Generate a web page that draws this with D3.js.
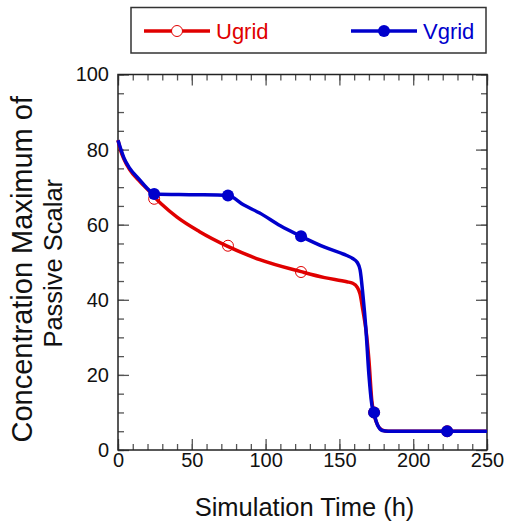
<!DOCTYPE html>
<html>
<head>
<meta charset="utf-8">
<script src="https://cdn.jsdelivr.net/npm/d3@7"></script>
<style>
  html, body { margin: 0; padding: 0; background: #fff; }
  svg { display: block; font-family: "Liberation Sans", Arial, sans-serif; }
  .tick text { font-size: 20px; fill: #111; }
</style>
</head>
<body>
<div id="chart"></div>
<script>
/* ── Concentration maximum of passive scalar vs simulation time ── */

// Ugrid (red) line samples
const uTime = [0, 2, 4, 8, 15, 21, 25, 30, 40, 55, 74, 96, 124, 140, 155, 159, 162, 164, 166, 168, 170, 172, 173.5, 176, 179, 183, 250];
const uConc = [82.5, 79.5, 77.5, 74.6, 71.4, 69, 67.2, 65.3, 62, 58.2, 54.3, 50.7, 47.5, 45.9, 44.8, 44.4, 43.4, 41.5, 37, 32, 24, 13, 9.5, 6.5, 5.3, 5, 5];

// Vgrid (blue) line samples
const vTime = [0, 2, 4, 8, 15, 21, 24.5, 50, 74.5, 85, 96, 110, 124, 140, 155, 159, 162, 164, 166, 168, 170, 172, 173.5, 176, 179, 183, 250];
const vConc = [82.5, 80, 77.8, 75, 71.8, 69.2, 68.2, 68, 67.8, 65.3, 63.1, 59.7, 56.9, 54, 51.8, 51, 50, 48, 41, 32, 20, 12, 9.6, 6.5, 5.2, 5, 5];

// marker positions
const markTime  = [24.5, 74.5, 124, 173.5, 223];
const uMarkConc = [66.9, 54.4, 47.4, 10, 5];
const vMarkConc = [68.2, 67.8, 56.9, 10, 5];

const xTicks = [0, 50, 100, 150, 200, 250];
const yTicks = [0, 20, 40, 60, 80, 100];

const W = 506, H = 525;
const margin = { top: 74.5, right: 19, bottom: 75, left: 118 };
const plotW = W - margin.left - margin.right;
const plotH = H - margin.top - margin.bottom;

const red  = '#e00000';
const blue = '#0000cc';

const svg = d3.select('#chart').append('svg')
  .attr('width', W).attr('height', H);

const g = svg.append('g').attr('transform', `translate(${margin.left},${margin.top})`);

const x = d3.scaleLinear().domain([0, 250]).range([0, plotW]);
const y = d3.scaleLinear().domain([0, 100]).range([plotH, 0]);

const xMinor = d3.range(0, 251, 10);
const yMinor = d3.range(0, 101, 5);

// minor ticks, all four sides (inward)
function minorAxis(axis, vals) {
  return axis.tickValues(vals).tickSize(-6).tickFormat('');
}
g.append('g').attr('transform', `translate(0,${plotH})`).call(minorAxis(d3.axisBottom(x), xMinor));
g.append('g').call(minorAxis(d3.axisTop(x), xMinor));
g.append('g').call(minorAxis(d3.axisLeft(y), yMinor));
g.append('g').attr('transform', `translate(${plotW},0)`).call(minorAxis(d3.axisRight(y), yMinor));

// major ticks
g.append('g').attr('class', 'xaxis').attr('transform', `translate(0,${plotH})`)
  .call(d3.axisBottom(x).tickValues(xTicks).tickSize(-11).tickPadding(3));
g.append('g').call(d3.axisTop(x).tickValues(xTicks).tickSize(-11).tickFormat(''));
g.append('g').attr('class', 'yaxis')
  .call(d3.axisLeft(y).tickValues(yTicks).tickSize(-11).tickPadding(9));
g.append('g').attr('transform', `translate(${plotW},0)`)
  .call(d3.axisRight(y).tickValues(yTicks).tickSize(-11).tickFormat(''));

g.selectAll('.domain').remove();
g.selectAll('.tick line').attr('stroke', '#555').attr('stroke-width', 1.3);

// frame
g.append('rect')
  .attr('width', plotW).attr('height', plotH)
  .attr('fill', 'none').attr('stroke', '#222').attr('stroke-width', 1.5);

// lines
const line = d3.line()
  .x(d => x(d[0]))
  .y(d => y(d[1]))
  .curve(d3.curveMonotoneX);

g.append('path')
  .datum(uTime.map((t, i) => [t, uConc[i]]))
  .attr('d', line)
  .attr('fill', 'none').attr('stroke', red).attr('stroke-width', 3.5);

g.selectAll('.umark')
  .data(markTime.map((t, i) => [t, uMarkConc[i]]))
  .join('circle')
  .attr('class', 'umark')
  .attr('cx', d => x(d[0])).attr('cy', d => y(d[1]))
  .attr('r', 5.5)
  .attr('fill', 'none').attr('stroke', red).attr('stroke-width', 1);

g.append('path')
  .datum(vTime.map((t, i) => [t, vConc[i]]))
  .attr('d', line)
  .attr('fill', 'none').attr('stroke', blue).attr('stroke-width', 3.5);

g.selectAll('.vmark')
  .data(markTime.map((t, i) => [t, vMarkConc[i]]))
  .join('circle')
  .attr('class', 'vmark')
  .attr('cx', d => x(d[0])).attr('cy', d => y(d[1]))
  .attr('r', 6)
  .attr('fill', blue);

// axis titles
svg.append('text')
  .attr('x', margin.left + plotW / 2 + 2)
  .attr('y', 516)
  .attr('text-anchor', 'middle')
  .attr('font-size', 25.5)
  .attr('fill', '#111')
  .text('Simulation Time (h)');

const yTitle = svg.append('text')
  .attr('transform', `translate(0,${margin.top + plotH / 2}) rotate(-90)`)
  .attr('text-anchor', 'middle')
  .attr('fill', '#111');
yTitle.append('tspan').attr('x', -7).attr('y', 32).attr('font-size', 29).text('Concentration Maximum of');
yTitle.append('tspan').attr('x', -1).attr('y', 62).attr('font-size', 25.5).text('Passive Scalar');

// legend
const leg = svg.append('g');
leg.append('rect')
  .attr('x', 131).attr('y', 7.5)
  .attr('width', 355).attr('height', 45.5)
  .attr('fill', '#fff').attr('stroke', '#333').attr('stroke-width', 1.5);

const legItems = [
  { name: 'Ugrid', color: red, x0: 144, filled: false },
  { name: 'Vgrid', color: blue, x0: 351, filled: true }
];
legItems.forEach(d => {
  leg.append('line')
    .attr('x1', d.x0).attr('x2', d.x0 + 66)
    .attr('y1', 31).attr('y2', 31)
    .attr('stroke', d.color).attr('stroke-width', 3.5);
  leg.append('circle')
    .attr('cx', d.x0 + 33).attr('cy', 31)
    .attr('r', d.filled ? 6 : 5.5)
    .attr('fill', d.filled ? d.color : '#fff')
    .attr('stroke', d.filled ? 'none' : d.color)
    .attr('stroke-width', 1);
  leg.append('text')
    .attr('x', d.x0 + 72).attr('y', 39)
    .attr('font-size', 22)
    .attr('fill', d.color)
    .text(d.name);
});
</script>
</body>
</html>
